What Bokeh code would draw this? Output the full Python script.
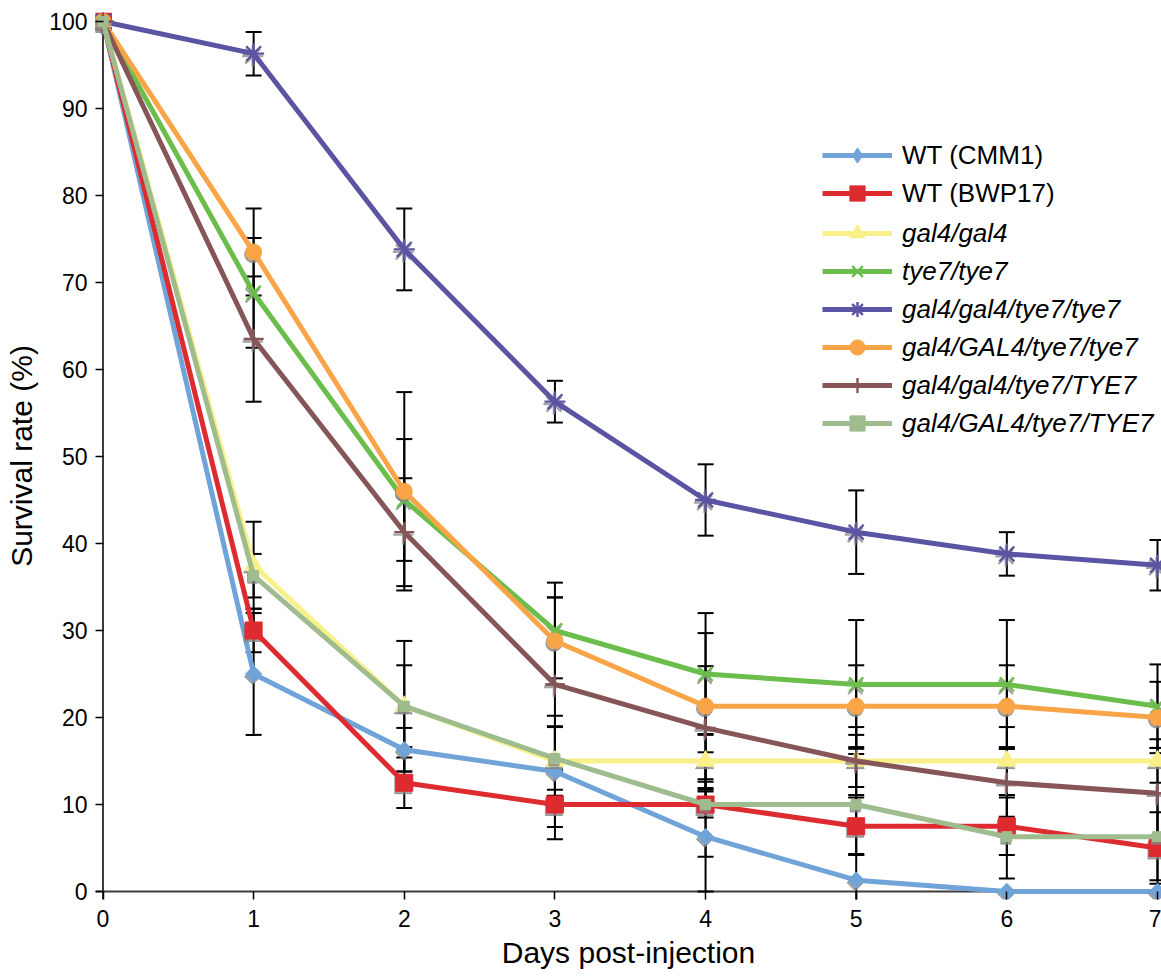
import numpy as np
from bokeh.plotting import figure
from bokeh.models import (ColumnDataSource, Whisker, TeeHead, Legend, LegendItem,
                          Span, FixedTicker, Range1d)
from bokeh.embed import file_html
from bokeh.resources import INLINE

# ---------------- data ----------------
days = [0, 1, 2, 3, 4, 5, 6, 7]
y_ticks = [0, 10, 20, 30, 40, 50, 60, 70, 80, 90, 100]

labels = ["WT (CMM1)", "WT (BWP17)", "gal4/gal4", "tye7/tye7",
          "gal4/gal4/tye7/tye7", "gal4/GAL4/tye7/tye7",
          "gal4/gal4/tye7/TYE7", "gal4/GAL4/tye7/TYE7"]

wt_cmm1 = [100, 25.0, 16.3, 13.8, 6.3, 1.3, 0.0, 0.0]
wt_bwp17 = [100, 30.0, 12.5, 10.0, 10.0, 7.5, 7.5, 5.0]
gal4 = [100, 37.5, 21.3, 15.0, 15.0, 15.0, 15.0, 15.0]
tye7 = [100, 68.8, 45.0, 30.0, 25.0, 23.8, 23.8, 21.3]
gal4_tye7 = [100, 96.3, 73.8, 56.3, 45.0, 41.3, 38.8, 37.5]
gal4r_tye7 = [100, 73.5, 46.0, 28.8, 21.3, 21.3, 21.3, 20.0]
gal4_tye7r = [100, 63.5, 41.3, 23.8, 18.8, 15.0, 12.5, 11.3]
gal4r_tye7r = [100, 36.3, 21.3, 15.3, 10.0, 10.0, 6.3, 6.3]

err_cmm1 = [0, 7.0, 2.5, 6.4, 6.3, 3.0, 0, 0]
err_bwp17 = [0, 2.5, 2.9, 4.0, 1.5, 3.3, 3.3, 4.1]
err_gal4 = [0, 5.0, 7.5, 4.0, 3.1, 3.9, 3.9, 2.5]
err_tye7 = [0, 6.3, 7.0, 5.5, 7.0, 7.4, 7.4, 4.8]
err_gal4_tye7 = [0, 2.5, 4.7, 2.4, 4.1, 4.8, 2.5, 2.9]
err_gal4r_tye7 = [0, 5.0, 11.4, 5.0, 8.4, 4.7, 4.7, 4.1]
err_gal4_tye7r = [0, 7.2, 6.2, 10.0, 7.1, 3.0, 3.9, 5.2]
err_gal4r_tye7r = [0, 2.5, 4.7, 3.6, 6.0, 5.8, 4.8, 5.0]

values = [wt_cmm1, wt_bwp17, gal4, tye7, gal4_tye7, gal4r_tye7, gal4_tye7r, gal4r_tye7r]
errors = [err_cmm1, err_bwp17, err_gal4, err_tye7, err_gal4_tye7, err_gal4r_tye7,
          err_gal4_tye7r, err_gal4r_tye7r]

colors = ["#70A4D9", "#DE2B30", "#FAF08A", "#6BBD4C", "#5A54A3", "#F9A547",
          "#865557", "#9FBC8F"]
# (plot marker, size, angle, line width, legend marker)
markers = [("square", 11.5, np.pi / 4, 1, "diamond"),
           ("square", 17, 0, 1, None),
           ("triangle", 18, 0, 1, None),
           ("x", 20, 0, 2.4, None),
           ("asterisk", 21, 0, 2.4, None),
           ("circle", 16, 0, 1, None),
           ("cross", 20, 0, 2.4, None),
           ("square", 10, 0, 1, None)]

# ---------------- figure ----------------
FONT = "Liberation Sans"
p = figure(width=1161, height=977,
           x_range=Range1d(-0.0498, 7.0266), y_range=Range1d(-0.92, 101.03),
           output_backend="svg", toolbar_location=None,
           min_border_left=95, min_border_right=0, min_border_top=12, min_border_bottom=78)
p.outline_line_color = None
p.grid.visible = False
p.background_fill_color = "white"
p.border_fill_color = "white"

p.xaxis.ticker = FixedTicker(ticks=days)
p.xaxis.major_tick_in = 8
p.xaxis.major_tick_out = 0
p.xaxis.major_label_standoff = 10
p.xaxis.axis_label = "Days post-injection"
p.xaxis.axis_label_standoff = 6

p.yaxis.ticker = FixedTicker(ticks=y_ticks)
p.yaxis.major_tick_in = 8
p.yaxis.major_tick_out = 0
p.yaxis.major_label_standoff = 8
p.yaxis.axis_label = "Survival rate (%)"
p.yaxis.axis_label_standoff = 8

for ax in (p.xaxis, p.yaxis):
    ax.axis_line_color = None
    ax.major_tick_line_color = "black"
    ax.major_tick_line_width = 1.5
    ax.minor_tick_line_color = None
    ax.major_label_text_font = FONT
    ax.major_label_text_font_size = "23px"
    ax.major_label_text_color = "black"
    ax.axis_label_text_font = FONT
    ax.axis_label_text_font_size = "30px"
    ax.axis_label_text_font_style = "normal"
    ax.axis_label_text_color = "black"

# axis lines through the origin
p.add_layout(Span(location=days[0], dimension="height", line_color="#3c3c3c",
                  line_width=2, level="underlay"))
p.add_layout(Span(location=y_ticks[0], dimension="width", line_color="#3c3c3c",
                  line_width=2, level="underlay"))

# pixel sizes -> data units for the drop shadow of the markers
px_x = 7.0764 / 1066.0
px_y = 101.95 / 887.0
shadow_dx = -1.0 * px_x
shadow_dy = -2.5 * px_y

# error bars (behind everything)
for vals, errs in zip(values, errors):
    b = [d for d, e in zip(days, errs) if e > 0]
    up = [v + e for v, e in zip(vals, errs) if e > 0]
    lo = [v - e for v, e in zip(vals, errs) if e > 0]
    src = ColumnDataSource(dict(base=b, upper=up, lower=lo))
    w = Whisker(source=src, base="base", upper="upper", lower="lower", dimension="height",
                line_color="black", line_width=2, level="underlay",
                upper_head=TeeHead(size=16, line_color="black", line_width=2),
                lower_head=TeeHead(size=16, line_color="black", line_width=2))
    p.add_layout(w)

items_plain, items_italic = [], []
for i, (lab, vals, col, mk) in enumerate(zip(labels, values, colors, markers)):
    marker, size, angle, lw, leg_marker = mk
    sx = (np.array(days) + shadow_dx).tolist()
    sy = (np.array(vals) + shadow_dy).tolist()
    p.scatter(sx, sy, marker=marker, size=size, angle=angle, fill_color="#858585",
              line_color="#858585", line_width=lw, alpha=0.75)
    lr = p.line(days, vals, line_color=col, line_width=5)
    er = None
    if leg_marker is not None:
        # upright diamond used for the legend; hidden under the plotted markers
        er = p.scatter(days, vals, marker=leg_marker, size=14, fill_color=col,
                       line_color=col)
    mr = p.scatter(days, vals, marker=marker, size=size, angle=angle, fill_color=col,
                   line_color=col, line_width=lw)
    rends = [lr, er if er is not None else mr]
    item = LegendItem(label=lab, renderers=rends)
    if i < 2:
        items_plain.append(item)
    else:
        items_italic.append(item)

common = dict(glyph_width=70, glyph_height=38, label_height=38, spacing=0, padding=0,
              margin=0, label_standoff=10, border_line_alpha=0, background_fill_alpha=0,
              label_text_font=FONT, label_text_font_size="26px", label_text_color="black")
leg1 = Legend(items=items_plain, location=(727, 687), **common)
leg2 = Legend(items=items_italic, location=(727, 457), label_text_font_style="italic", **common)
p.add_layout(leg1)
p.add_layout(leg2)

open("out.html", "w").write(file_html(p, INLINE))
